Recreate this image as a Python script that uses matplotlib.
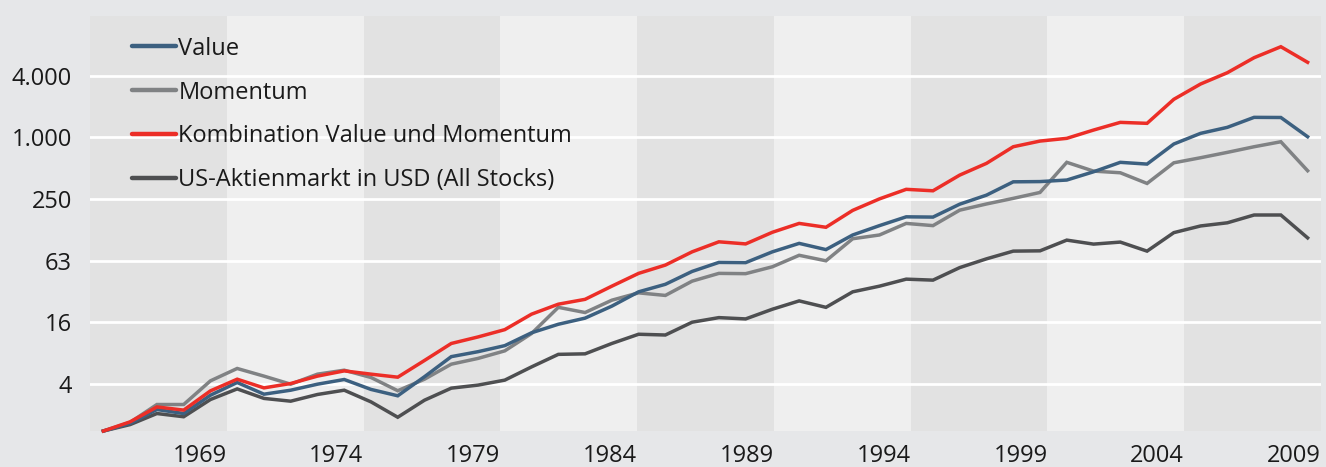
import matplotlib.pyplot as plt
import numpy as np

plt.rcParams['font.family'] = ['Open Sans', 'DejaVu Sans']

# year-end index levels, log scale
years = list(range(1964, 2010))

value = [1.35, 1.60, 2.19, 2.00, 3.02, 4.02, 3.09, 3.38, 3.87, 4.30,
         3.44, 2.98, 4.58, 7.19, 8.04, 9.21, 12.3, 14.9, 17.1, 22.4,
         30.9, 36.6, 48.9, 59.9, 59.6, 76.0, 91.9, 79.9, 111, 137,
         167, 166, 222, 272, 367, 369, 382, 460, 569, 547,
         859, 1092, 1250, 1565, 1560, 1012]

momentum = [1.35, 1.64, 2.45, 2.45, 4.17, 5.51, 4.64, 3.87, 4.85, 5.30,
            4.50, 3.34, 4.33, 6.07, 6.91, 8.19, 12.1, 21.8, 19.4, 25.6,
            30.2, 28.5, 39.3, 46.8, 46.5, 54.3, 70.3, 62.1, 102, 111,
            144, 137, 194, 223, 253, 289, 569, 467, 450, 354,
            563, 631, 712, 808, 904, 471]

combo = [1.35, 1.66, 2.32, 2.16, 3.33, 4.33, 3.56, 3.93, 4.64, 5.22,
         4.85, 4.53, 6.60, 9.67, 11.2, 13.2, 18.7, 23.4, 26.1, 35.1,
         46.8, 56.4, 76.0, 95.2, 90.8, 118, 144, 132, 193, 250,
         310, 300, 427, 556, 808, 918, 976, 1176, 1398, 1368,
         2348, 3313, 4271, 5988, 7665, 5398]

market = [1.35, 1.56, 2.00, 1.86, 2.74, 3.48, 2.81, 2.64, 3.07, 3.38,
          2.60, 1.84, 2.70, 3.54, 3.79, 4.24, 5.71, 7.57, 7.66, 9.67,
          11.9, 11.7, 15.6, 17.3, 16.8, 20.9, 25.2, 21.8, 30.9, 35.1,
          41.1, 40.2, 53.3, 64.9, 77.2, 77.7, 98.9, 90.4, 94.6, 77.2,
          117, 136, 146, 174, 174, 104]

x_labels = ['1969', '1974', '1979', '1984', '1989', '1994', '1999', '2004', '2009']
y_ticks = [3.90625, 15.625, 62.5, 250, 1000, 4000]
y_labels = ['4', '16', '63', '250', '1.000', '4.000']

names = ['Value', 'Momentum', 'Kombination Value und Momentum',
         'US-Aktienmarkt in USD (All Stocks)']
colors = ['#3c6080', '#808284', '#ec2e27', '#4e4f51']

fig = plt.figure(figsize=(13.26, 4.67), dpi=100)
fig.patch.set_facecolor('#e6e7e9')
ax = fig.add_axes([90 / 1326, 1 - 431 / 467, 1231 / 1326, 415 / 467])

x0, x1 = years[0] - 0.5, years[-1] + 0.5
edges = np.linspace(x0, x1, len(x_labels) + 1)
for i in range(len(edges) - 1):
    ax.axvspan(edges[i], edges[i + 1], color='#e2e2e2' if i % 2 == 0 else '#efefef',
               lw=0, zorder=0)

ax.set_yscale('log')
ax.set_xlim(x0, x1)
ax.set_ylim(1.35, 15300)
for t in y_ticks:
    ax.axhline(t, color='white', lw=2, zorder=1)

series = [value, momentum, combo, market]
handles = [None] * 4
for k in [3, 1, 0, 2]:
    handles[k], = ax.plot(years, series[k], color=colors[k], lw=2.5,
                          solid_joinstyle='miter', clip_on=False, zorder=3)

ax.set_yticks(y_ticks)
ax.set_yticklabels(y_labels)
ax.minorticks_off()
ax.set_xticks(edges[1:])
ax.set_xticklabels(x_labels, ha='right')
ax.tick_params(length=0, labelsize=17, colors='#1a1a1a')
ax.tick_params(axis='y', pad=13)
ax.tick_params(axis='x', pad=9)
for s in ax.spines.values():
    s.set_visible(False)

leg_handles = [plt.Line2D([], [], color=c, lw=3.2, solid_capstyle='round') for c in colors]
ax.legend(leg_handles, names, loc='upper left', bbox_to_anchor=(0.0343, 0.95),
          frameon=False, fontsize=17, handlelength=1.85, handletextpad=0.1,
          labelspacing=0.84, borderpad=0, borderaxespad=0, labelcolor='#1a1a1a')

fig.savefig('out.png', dpi=100, facecolor=fig.get_facecolor())
